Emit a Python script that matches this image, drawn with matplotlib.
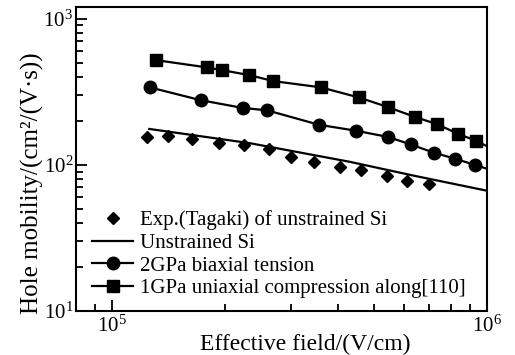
import matplotlib
matplotlib.use("Agg")
import matplotlib.pyplot as plt
from matplotlib.ticker import LogLocator

plt.rcParams["font.family"] = ["Liberation Serif", "DejaVu Serif"]
plt.rcParams["mathtext.fontset"] = "custom"
plt.rcParams["mathtext.rm"] = "Liberation Serif"
plt.rcParams["mathtext.it"] = "Liberation Serif:italic"

# Exp. (Tagaki) unstrained Si
exp_field = [1.24e5, 1.41e5, 1.63e5, 1.93e5, 2.25e5, 2.62e5, 3.00e5,
             3.46e5, 4.06e5, 4.62e5, 5.42e5, 6.13e5, 7.02e5]
exp_mob = [156, 158, 151, 142, 136, 128.5, 113.5, 104, 97, 91.5, 83.7, 77.8, 73.5]

# simulated unstrained Si (line only)
uns_field = [1.255e5, 2.33e5, 4.31e5, 6.35e5, 1.0e6]
uns_mob = [176, 140.6, 104.8, 84.5, 66.5]

# 2GPa biaxial tension
bi_field = [1.258e5, 1.72e5, 2.23e5, 2.59e5, 3.56e5, 4.48e5, 5.45e5,
            6.25e5, 7.22e5, 8.23e5, 9.27e5]
bi_mob = [339, 277, 245, 236, 188, 171, 155, 138, 121, 110, 100]
bi_end = (1.0e6, 94)

# 1GPa uniaxial compression along [110]
uni_field = [1.31e5, 1.79e5, 1.96e5, 2.32e5, 2.69e5, 3.60e5, 4.55e5,
             5.45e5, 6.44e5, 7.35e5, 8.37e5, 9.35e5]
uni_mob = [520, 464, 445, 411, 374, 339, 289, 248, 212, 190, 163, 146]
uni_end = (1.0e6, 134)

fig = plt.figure(figsize=(5.15, 3.55), dpi=100)
ax = fig.add_axes([0.1476, 0.124, 0.798, 0.856])

lw = 1.6
ax.plot(exp_field, exp_mob, linestyle="none", marker="D", markersize=6.5,
        color="black", label="Exp.(Tagaki) of unstrained Si")
ax.plot(uns_field, uns_mob, color="black", lw=lw, label="Unstrained Si")
ax.plot(bi_field + [bi_end[0]], bi_mob + [bi_end[1]], color="black", lw=lw)
ax.plot(bi_field, bi_mob, linestyle="none", marker="o", markersize=9, color="black")
ax.plot(uni_field + [uni_end[0]], uni_mob + [uni_end[1]], color="black", lw=lw)
ax.plot(uni_field, uni_mob, linestyle="none", marker="s", markersize=9, color="black")

# legend proxies for line+marker entries
ax.plot([], [], color="black", lw=lw, marker="o", markersize=9, label="2GPa biaxial tension")
ax.plot([], [], color="black", lw=lw, marker="s", markersize=9,
        label="1GPa uniaxial compression along[110]")

ax.set_xscale("log")
ax.set_yscale("log")
ax.set_xlim(8.0e4, 1.0e6)
ax.set_ylim(10, 1.2e3)

ax.xaxis.set_major_locator(LogLocator(base=10, numticks=10))
ax.yaxis.set_major_locator(LogLocator(base=10, numticks=10))
ax.tick_params(which="both", direction="in", top=False, right=False,
               labelsize=15, width=1.3)
ax.tick_params(which="major", length=8)
ax.tick_params(which="minor", length=5)
ax.tick_params(axis="x", which="major", pad=3)
ax.tick_params(axis="y", which="major", pad=2)
for s in ax.spines.values():
    s.set_linewidth(1.5)

ax.set_xlabel("Effective field/(V/cm)", fontsize=17)
ax.xaxis.set_label_coords(0.558, -0.074)
ax.set_ylabel("Hole mobility/(cm²/(V·s))", fontsize=18)
ax.yaxis.set_label_coords(-0.078, 0.42)

ax.legend(loc="lower left", frameon=False, fontsize=15, handlelength=2.0,
          handletextpad=0.3, labelspacing=0.15, borderaxespad=0.2,
          bbox_to_anchor=(0.008, 0.0))

fig.savefig("out.png", dpi=100)
